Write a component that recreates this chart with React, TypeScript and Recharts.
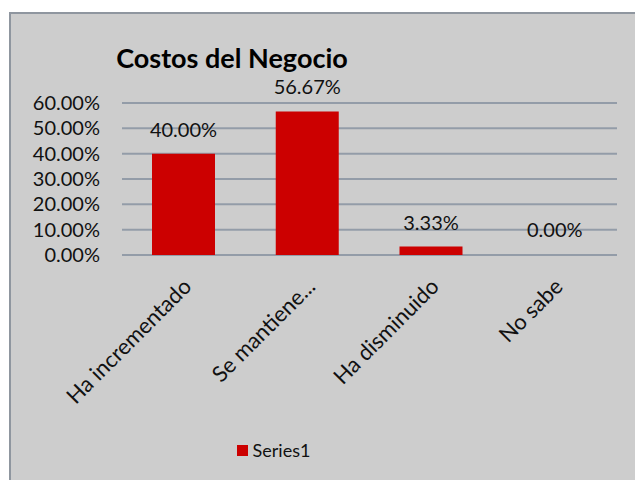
import { BarChart, Bar, XAxis, YAxis, CartesianGrid, LabelList, Legend, Cell } from 'recharts';

const categories = ['Ha incrementado', 'Se mantiene...', 'Ha disminuido', 'No sabe'];
const series1 = [0.4, 0.5667, 0.0333, 0];
const yTicks = [0, 0.1, 0.2, 0.3, 0.4, 0.5, 0.6];

const data = categories.map((name, i) => ({ name, Series1: series1[i] }));

const pct = (v: number) => `${(v * 100).toFixed(2)}%`;

const FONT = 'Lato, "Noto Sans", sans-serif';
const RED = '#cc0000';

// rotated category labels, anchored at their end like Excel does
const RotatedTick = (props: any) => {
  const { x, y, payload } = props;
  return (
    <g transform={`translate(${x + 9},${y + 33})`}>
      <text x={0} y={0} textAnchor="end" transform="rotate(-45)" fontSize={22} fontFamily={FONT} fill="#111">
        {payload.value}
      </text>
    </g>
  );
};

const LegendContent = () => (
  <div style={{ display: 'flex', alignItems: 'center', justifyContent: 'center', fontFamily: FONT, fontSize: 18, color: '#111' }}>
    <span style={{ width: 11, height: 11, background: RED, marginRight: 5, display: 'inline-block' }} />
    <span>Series1</span>
  </div>
);

export default function App() {
  return (
    <div style={{ position: 'absolute', left: 0, top: 0, width: 635, height: 480, background: '#fff', overflow: 'hidden' }}>
      <div
        style={{
          position: 'absolute',
          left: 9,
          top: 12,
          width: 640,
          height: 480,
          background: '#cdcdcd',
          borderLeft: '2px solid #8f969f',
          borderTop: '2px solid #8f969f',
        }}
      />
      <div
        style={{
          position: 'absolute',
          left: 0,
          width: 464,
          top: 41,
          textAlign: 'center',
          fontFamily: FONT,
          fontWeight: 'bold',
          fontSize: 27,
          color: '#000',
        }}
      >
        Costos del Negocio
      </div>
      <BarChart
        width={635}
        height={480}
        data={data}
        margin={{ top: 103, right: 18, bottom: 0, left: 0 }}
        style={{ position: 'absolute', left: 0, top: 0 }}
      >
        <CartesianGrid vertical={false} stroke="#939ca8" strokeWidth={2} />
        <YAxis
          width={122}
          domain={[0, 0.6]}
          ticks={yTicks}
          interval={0}
          tickFormatter={pct}
          axisLine={false}
          tickLine={false}
          tickMargin={16}
          tick={{ fontSize: 20, fontFamily: FONT, fill: '#111' }}
        />
        <XAxis
          dataKey="name"
          height={225}
          axisLine={false}
          tickLine={false}
          tickSize={0}
          tickMargin={0}
          interval={0}
          tick={<RotatedTick />}
        />
        <Bar
          dataKey="Series1"
          fill={RED}
          barSize={63}
          minPointSize={(v: any) => (Number(v) === 0 ? 1 : 0)}
          isAnimationActive={false}
        >
          {series1.map((v, i) => (
            <Cell key={i} fill={v === 0 ? 'transparent' : RED} />
          ))}
          <LabelList
            dataKey="Series1"
            position="top"
            offset={17}
            formatter={(v: any) => pct(Number(v))}
            style={{ fontSize: 20, fontFamily: FONT, fill: '#111' }}
          />
        </Bar>
        <Legend
          layout="horizontal"
          verticalAlign="middle"
          align="center"
          content={<LegendContent />}
          wrapperStyle={{ position: 'absolute', left: 0, width: 547, top: 439 }}
        />
      </BarChart>
    </div>
  );
}
